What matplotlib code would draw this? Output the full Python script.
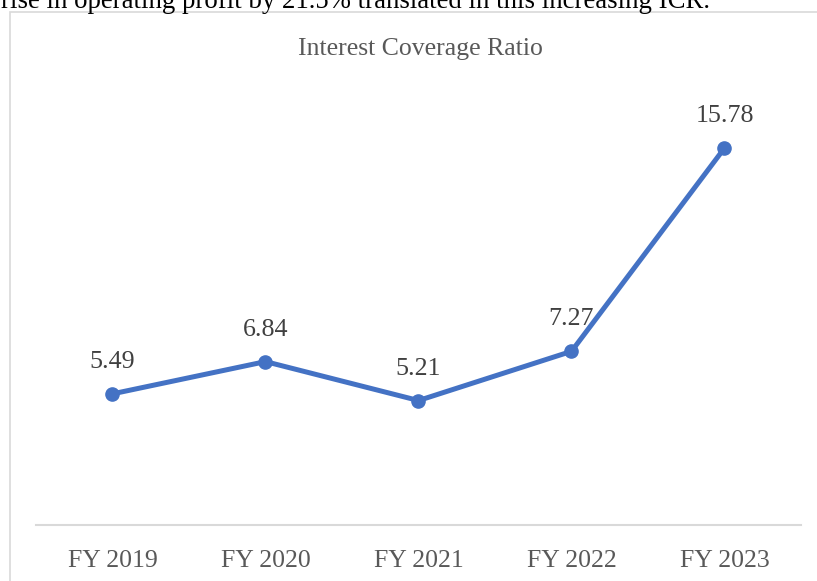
import matplotlib.pyplot as plt
from matplotlib.patches import Rectangle

# -----------------------------
# Data
# -----------------------------
years = ["FY 2019", "FY 2020", "FY 2021", "FY 2022", "FY 2023"]
icr = [5.49, 6.84, 5.21, 7.27, 15.78]

serif = ["Liberation Serif", "DejaVu Serif"]
grey = "#595959"
blue = "#4472C4"

W, H = 817, 581
fig = plt.figure(figsize=(W / 100, H / 100), dpi=100)

# chart frame (extends past the crop on the right and bottom)
fig.patches.append(Rectangle((10 / W, -0.1), 1.2, 1 - 12 / H + 0.1,
                             transform=fig.transFigure, fill=False,
                             edgecolor="#D9D9D9", linewidth=1.2))

# cut-off line of document text above the chart
fig.text(1 / W, 1 - 8 / H,
         "rise in operating profit by 21.5% translated in this increasing ICR.",
         family=serif, fontsize=19.3, color="black", va="baseline", ha="left")

ax = fig.add_axes([36 / W, 56 / H, 765 / W, 430 / H])
x = range(len(years))
ax.plot(x, icr, color=blue, linewidth=3.6, marker="o", markersize=9.5,
        solid_capstyle="round")

for xi, v in zip(x, icr):
    ax.annotate(f"{v:.2f}", (xi, v), xytext=(0, 23), textcoords="offset points",
                ha="center", va="center", family=serif, fontsize=18.7,
                color="#404040")

ax.set_xlim(-0.5, len(years) - 0.5)
ax.set_ylim(0, 18)
ax.set_xticks(list(x))
ax.set_xticklabels(years, family=serif, fontsize=18.5, color=grey)
ax.tick_params(axis="x", length=0, pad=18)
ax.set_yticks([])

for side in ["top", "right", "left"]:
    ax.spines[side].set_visible(False)
ax.spines["bottom"].set_color("#D9D9D9")
ax.spines["bottom"].set_linewidth(1.5)

fig.text(420 / W, 1 - 49 / H, "Interest Coverage Ratio", family=serif,
         fontsize=18.5, color=grey, ha="center", va="center")

fig.savefig("out.png", dpi=100)
